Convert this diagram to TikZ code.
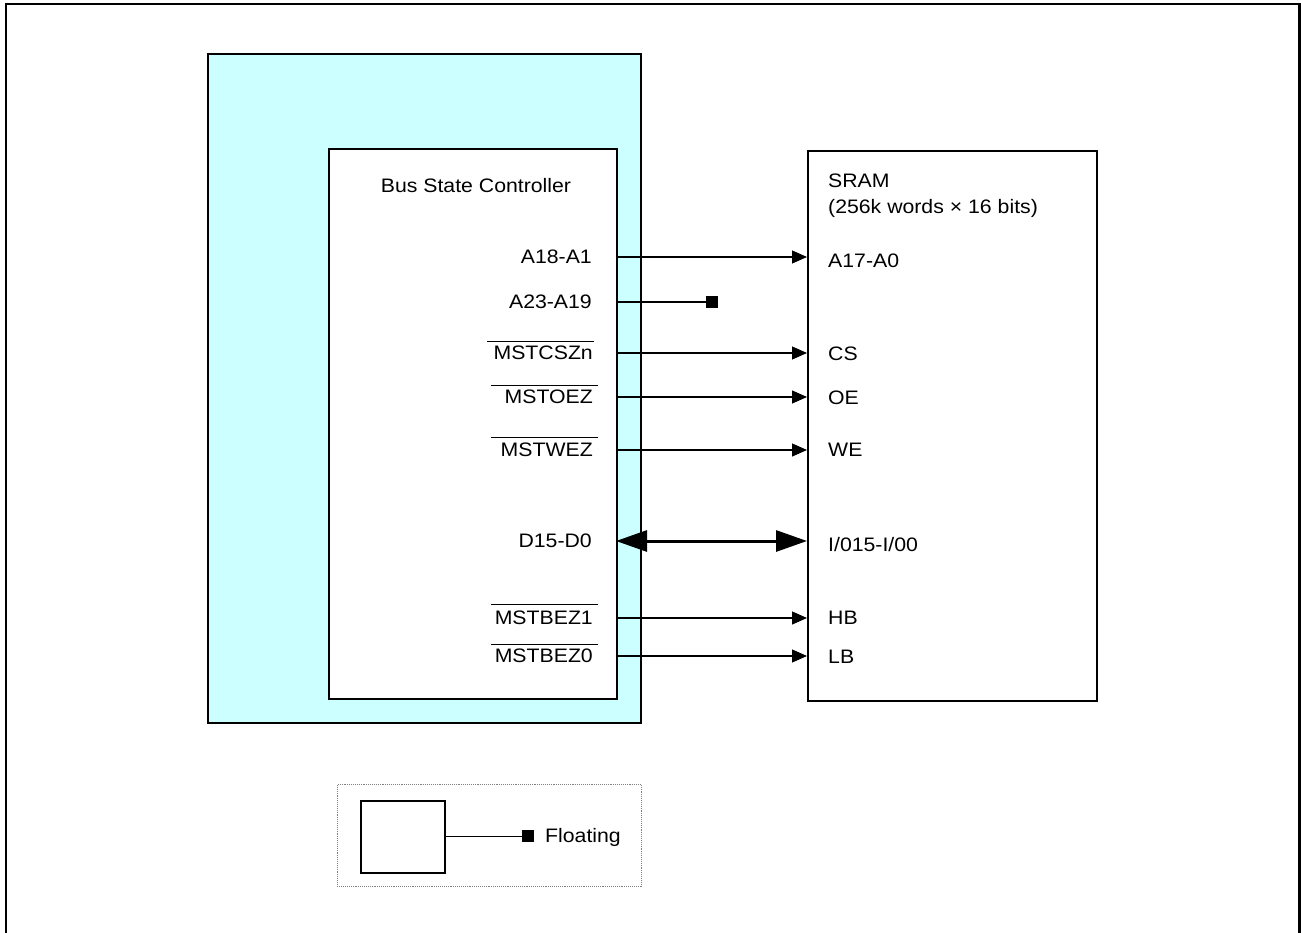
\documentclass[tikz,border=0pt]{standalone}
\usepackage{fontspec}
\setmainfont[FakeStretch=1.09]{Liberation Sans}
\usetikzlibrary{arrows.meta}
\definecolor{cpucyan}{HTML}{CCFFFF}
\begin{document}
\begin{tikzpicture}[x=1pt,y=-1pt,
  lbl/.style={inner sep=0pt, font=\fontsize{19.5}{23}\selectfont, text height=13.9pt, text depth=0pt},
  box/.style={draw, line width=1.8pt, rectangle, inner sep=0pt},
  sig/.style={line width=1.1pt, -{Triangle[length=15pt,width=13pt]}},
  bus/.style={line width=3pt, {Triangle[length=31pt,width=21pt]}-{Triangle[length=31pt,width=21pt]}},
  ovl/.style={line width=1pt},
  endsq/.style={fill=black, draw=none, minimum size=12pt, inner sep=0pt, rectangle}]
\useasboundingbox (0,0) rectangle (1301,933);
% outer frame
\draw[line width=2.5pt] (6,960) -- (6,4) -- (1299.5,4) -- (1299.5,960);
% CPU (cyan) box
\node[box, fill=cpucyan, minimum width=433pt, minimum height=669pt, anchor=north west] (cpu) at (207,53) {};
% Bus State Controller
\node[box, fill=white, minimum width=288pt, minimum height=550pt, anchor=north west] (bsc) at (328,148) {};
\node[lbl] (bsctitle) at (476,186) {Bus State Controller};
% SRAM
\node[box, fill=white, minimum width=289pt, minimum height=550pt, anchor=north west] (sram) at (807,150) {};
\node[lbl, anchor=west] (sramtitle) at (828,181) {SRAM};
\node[lbl, anchor=west] (sramsize) at (828,207) {(256k words \texttimes{} 16 bits)};
% BSC side labels
\node[lbl, anchor=east] (lA) at (592,257) {A18-A1};
\node[lbl, anchor=east] (lAh) at (592,302) {A23-A19};
\node[lbl, anchor=east] (lCS) at (593,353) {MSTCSZn};
\node[lbl, anchor=east] (lOE) at (593,397) {MSTOEZ};
\node[lbl, anchor=east] (lWE) at (593,450) {MSTWEZ};
\node[lbl, anchor=east] (lD) at (592,541) {D15-D0};
\node[lbl, anchor=east] (lHB) at (593,618) {MSTBEZ1};
\node[lbl, anchor=east] (lLB) at (593,656) {MSTBEZ0};
% overlines
\draw[ovl] (487,341) -- (594,341);
\draw[ovl] (491,385) -- (598,385);
\draw[ovl] (491,437) -- (598,437);
\draw[ovl] (491,604) -- (598,604);
\draw[ovl] (491,644) -- (598,644);
% SRAM side labels
\node[lbl, anchor=west] (rA) at (828,261) {A17-A0};
\node[lbl, anchor=west] (rCS) at (828,354) {CS};
\node[lbl, anchor=west] (rOE) at (828,398) {OE};
\node[lbl, anchor=west] (rWE) at (828,450) {WE};
\node[lbl, anchor=west] (rD) at (828,545) {I/015-I/00};
\node[lbl, anchor=west] (rHB) at (828,618) {HB};
\node[lbl, anchor=west] (rLB) at (828,657) {LB};
% connection points
\coordinate (sA) at (616,257);
\coordinate (sAh) at (616,302);
\coordinate (sCS) at (616,353);
\coordinate (sOE) at (616,397);
\coordinate (sWE) at (616,450);
\coordinate (sD) at (616,541);
\coordinate (sHB) at (616,618);
\coordinate (sLB) at (616,656);
\node[endsq] (float1) at (712,302) {};
% connectors
\draw[sig] (sA) -- (sA -| sram.west);
\draw[line width=1.1pt] (sAh) -- (sAh -| float1.west);
\draw[sig] (sCS) -- (sCS -| sram.west);
\draw[sig] (sOE) -- (sOE -| sram.west);
\draw[sig] (sWE) -- (sWE -| sram.west);
\draw[bus] (sD) -- (sD -| sram.west);
\draw[sig] (sHB) -- (sHB -| sram.west);
\draw[sig] (sLB) -- (sLB -| sram.west);
% legend
\node[draw=gray, densely dotted, line width=0.9pt, rectangle, inner sep=0pt, minimum width=304pt, minimum height=102pt, anchor=north west] (legend) at (337,784) {};
\node[box, minimum width=84pt, minimum height=72pt, anchor=north west] (legbox) at (360,800) {};
\node[endsq] (float2) at (528,836) {};
\draw[line width=1.1pt] (legbox.east) -- (legbox.east -| float2.west);
\node[lbl, anchor=west] (floattxt) at (545,836) {Floating};
\end{tikzpicture}
\end{document}
